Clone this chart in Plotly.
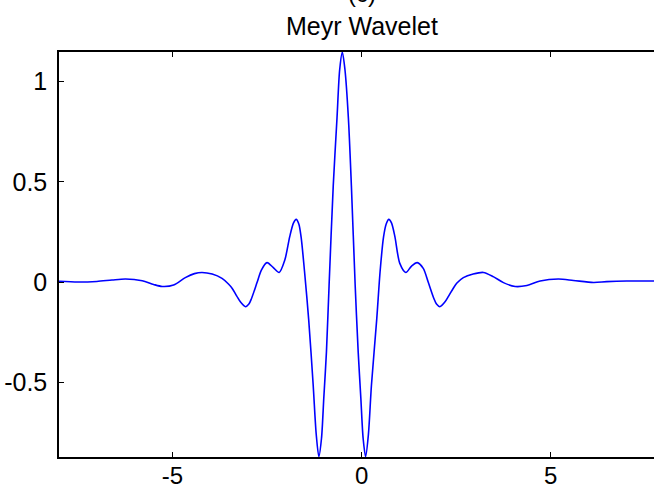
import plotly.graph_objects as go

# Meyer wavelet samples
x_vals = [-8.0, -7.5, -7.0, -6.6, -6.24, -5.8, -5.5, -5.27, -4.97, -4.66, -4.42, -4.22,
          -3.95, -3.69, -3.52, -3.42, -3.30, -3.20, -3.07, -2.98, -2.91, -2.76, -2.65,
          -2.50, -2.34, -2.18, -2.03, -1.90, -1.80, -1.73, -1.66, -1.60, -1.51, -1.40,
          -1.28, -1.20, -1.13, -1.06, -1.00, -0.93, -0.86, -0.75, -0.65, -0.58, -0.51,
          -0.44, -0.35, -0.27, -0.17, -0.09, -0.02, 0.04, 0.105, 0.18, 0.26, 0.40, 0.49,
          0.58, 0.65, 0.72, 0.79, 0.88, 1.01, 1.17, 1.32, 1.47, 1.63, 1.76, 1.91, 1.98,
          2.07, 2.20, 2.30, 2.42, 2.52, 2.69, 2.95, 3.22, 3.48, 3.75, 4.06, 4.37, 4.72,
          5.20, 5.60, 6.13, 6.48, 7.01, 7.73]
psi_vals = [0.004, 0.0, 0.003, 0.01, 0.015, 0.006, -0.012, -0.022, -0.015, 0.022, 0.042, 0.048,
            0.04, 0.018, -0.01, -0.032, -0.07, -0.1, -0.123, -0.11, -0.082, 0.0, 0.06,
            0.097, 0.073, 0.048, 0.11, 0.227, 0.295, 0.313, 0.29, 0.225, 0.055, -0.185,
            -0.515, -0.76, -0.872, -0.78, -0.58, -0.35, -0.017, 0.48, 0.82, 1.06, 1.148,
            1.06, 0.82, 0.48, -0.017, -0.35, -0.58, -0.78, -0.872, -0.76, -0.515, -0.185, 0.055,
            0.225, 0.29, 0.313, 0.295, 0.227, 0.093, 0.048, 0.08, 0.097, 0.068, 0.0, -0.082, -0.11,
            -0.123, -0.1, -0.07, -0.032, -0.005, 0.022, 0.04, 0.048, 0.027, -0.003, -0.022, -0.017, 0.005,
            0.015, 0.008, -0.002, 0.002, 0.005, 0.005]

x_ticks = [-5, 0, 5]
x_tick_labels = ["-5", "0", "5"]
y_ticks = [-0.5, 0, 0.5, 1]
y_tick_labels = ["-0.5", "0", "0.5", "1"]

x_range = [-8, 7.73]
y_range = [-0.8735, 1.1485]

FONT = "Liberation Sans, Arial, sans-serif"

fig = go.Figure()
fig.add_trace(go.Scatter(
    x=x_vals, y=psi_vals, mode="lines",
    line=dict(color="rgb(0,0,255)", width=1.6, shape="spline", smoothing=0.8),
    showlegend=False, hoverinfo="skip"))

fig.update_layout(
    width=654, height=489,
    margin=dict(l=59, r=0, t=52, b=32, autoexpand=False),
    paper_bgcolor="white", plot_bgcolor="white",
    font=dict(family=FONT, color="black", size=24),
    showlegend=False,
)

fig.update_xaxes(
    range=x_range, tickvals=x_ticks, ticktext=x_tick_labels,
    showgrid=False, zeroline=False, automargin=False,
    showline=True, linecolor="black", linewidth=1.5, mirror="ticks",
    ticks="inside", ticklen=5, tickwidth=1, tickcolor="black",
    tickfont=dict(family=FONT, size=24, color="black"),
    ticklabelstandoff=-4,
)
fig.update_yaxes(
    range=y_range, tickvals=y_ticks, ticktext=y_tick_labels,
    showgrid=False, zeroline=False, automargin=False,
    showline=True, linecolor="black", linewidth=1.5, mirror=False,
    ticks="inside", ticklen=5, tickwidth=1, tickcolor="black",
    tickfont=dict(family=FONT, size=25, color="black"),
    ticklabelstandoff=5,
)

title_x = (0 - x_range[0]) / (x_range[1] - x_range[0])
fig.add_annotation(text="Meyr Wavelet", xref="paper", yref="paper",
                   x=title_x, y=1, xanchor="center", yanchor="bottom", yshift=10,
                   showarrow=False, font=dict(family=FONT, size=25, color="black"))
fig.add_annotation(text="(c)", xref="paper", yref="paper",
                   x=title_x, y=1, xanchor="center", yanchor="bottom", yshift=43,
                   showarrow=False, font=dict(family=FONT, size=24, color="black"))

fig.write_html("out.html",
               config={"displayModeBar": False},
               post_script="document.body.style.margin='0';document.body.style.overflow='hidden';")
